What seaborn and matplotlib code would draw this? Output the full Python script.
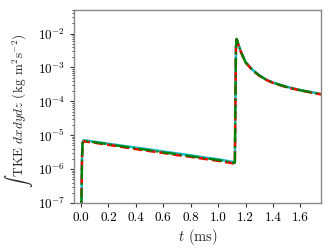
import numpy as np
import pandas as pd
import seaborn as sns
import matplotlib
matplotlib.use("Agg")
import matplotlib.pyplot as plt

# time (ms) and integrated TKE for three runs
t = [0.0, 0.004, 0.008, 0.012, 0.02, 0.03, 0.1, 0.2, 0.3, 0.4, 0.5, 0.6, 0.7,
     0.8, 0.9, 1.0, 1.1, 1.122, 1.126, 1.13, 1.135, 1.15, 1.17, 1.2, 1.25,
     1.3, 1.35, 1.4, 1.5, 1.6, 1.7, 1.75]

tke_a = [1e-9, 1e-7, 2e-6, 6.0e-6, 7.2e-6, 7.0e-6, 6.4e-6, 5.6e-6, 4.9e-6,
         4.3e-6, 3.8e-6, 3.3e-6, 2.9e-6, 2.55e-6, 2.2e-6, 1.95e-6, 1.65e-6,
         1.6e-6, 1e-4, 4e-3, 7.0e-3, 4.6e-3, 2.7e-3, 1.45e-3, 8.6e-4,
         5.9e-4, 4.4e-4, 3.6e-4, 2.7e-4, 2.15e-4, 1.8e-4, 1.65e-4]
tke_b = [1e-9, 1e-7, 2e-6, 5.6e-6, 6.6e-6, 6.5e-6, 6.0e-6, 5.2e-6, 4.5e-6,
         3.9e-6, 3.4e-6, 3.0e-6, 2.6e-6, 2.3e-6, 2.0e-6, 1.75e-6, 1.5e-6,
         1.45e-6, 1e-4, 4e-3, 6.8e-3, 4.4e-3, 2.6e-3, 1.4e-3, 8.3e-4,
         5.7e-4, 4.3e-4, 3.5e-4, 2.6e-4, 2.1e-4, 1.75e-4, 1.6e-4]
tke_c = [1e-9, 1e-7, 2e-6, 5.8e-6, 6.8e-6, 6.7e-6, 6.2e-6, 5.4e-6, 4.7e-6,
         4.1e-6, 3.6e-6, 3.1e-6, 2.75e-6, 2.4e-6, 2.1e-6, 1.85e-6, 1.58e-6,
         1.52e-6, 1e-4, 4e-3, 6.9e-3, 4.5e-3, 2.65e-3, 1.42e-3, 8.5e-4,
         5.8e-4, 4.35e-4, 3.55e-4, 2.65e-4, 2.12e-4, 1.78e-4, 1.62e-4]

sns.set_style("ticks")
plt.rcParams["font.family"] = "serif"
plt.rcParams["font.serif"] = ["cmr10", "DejaVu Serif"]
plt.rcParams["mathtext.fontset"] = "cm"
plt.rcParams["axes.formatter.use_mathtext"] = True
plt.rcParams["axes.unicode_minus"] = False

fig, ax = plt.subplots(figsize=(3.32, 2.49), dpi=100)
fig.subplots_adjust(left=0.223, right=0.967, bottom=0.185, top=0.96)

sns.lineplot(x=t, y=tke_a, ax=ax, color="#17becf", lw=1.8, linestyle="-")
sns.lineplot(x=t, y=tke_b, ax=ax, color="red", lw=1.8, linestyle="--")
sns.lineplot(x=t, y=tke_c, ax=ax, color="green", lw=1.6, linestyle="-.")

ax.set_yscale("log")
ax.set_xlim(-0.05, 1.75)
ax.set_ylim(1e-7, 5e-2)
ax.set_xticks([0.0, 0.2, 0.4, 0.6, 0.8, 1.0, 1.2, 1.4, 1.6])
ax.set_xticklabels(["0.0", "0.2", "0.4", "0.6", "0.8", "1.0", "1.2", "1.4", "1.6"])
ax.tick_params(labelsize=9.5, length=3, color="#333333", labelcolor="black")
ax.tick_params(which="minor", length=1.5)
for s in ax.spines.values():
    s.set_color("#888888")
    s.set_linewidth(1.0)

ax.set_xlabel(r"$t$ (ms)", fontsize=10.5, labelpad=2)
ax.set_ylabel(r"$\int$ TKE $dxdydz$ (kg m$^2$s$^{-2}$)", fontsize=9.5)
ax.yaxis.set_label_coords(-0.16, 0.48)

fig.savefig("out.png", dpi=100)
